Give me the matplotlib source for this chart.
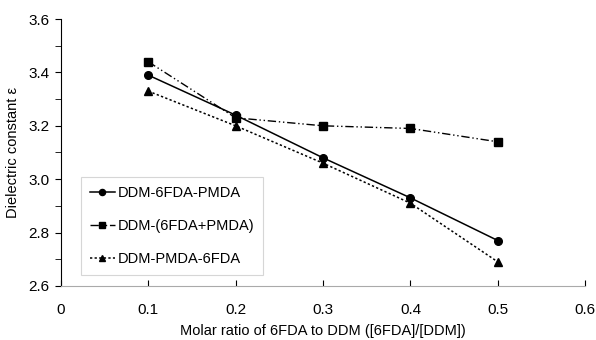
import matplotlib.pyplot as plt

plt.rcParams["font.family"] = ["Liberation Sans", "DejaVu Sans"]

ratio = [0.1, 0.2, 0.3, 0.4, 0.5]
ddm_6fda_pmda = [3.39, 3.24, 3.08, 2.93, 2.77]
ddm_mix = [3.44, 3.23, 3.20, 3.19, 3.14]
ddm_pmda_6fda = [3.33, 3.20, 3.06, 2.91, 2.69]

x_ticks = [0, 0.1, 0.2, 0.3, 0.4, 0.5, 0.6]
x_labels = ["0", "0.1", "0.2", "0.3", "0.4", "0.5", "0.6"]
y_ticks = [2.6, 2.8, 3.0, 3.2, 3.4, 3.6]
y_labels = ["2.6", "2.8", "3.0", "3.2", "3.4", "3.6"]
y_minor = [2.7, 2.9, 3.1, 3.3, 3.5]

fig = plt.figure(figsize=(5.96, 3.4), dpi=100)
ax = fig.add_axes([0.102, 0.159, 0.88, 0.785])

ax.plot(ratio, ddm_6fda_pmda, "k-", marker="o", ms=5.5, lw=1.1, label="DDM-6FDA-PMDA")
ax.plot(ratio, ddm_mix, "k", ls=(0, (6, 2, 1, 2, 1, 2)), marker="s", ms=5.5, lw=1.0,
        label="DDM-(6FDA+PMDA)")
ax.plot(ratio, ddm_pmda_6fda, "k", ls=(0, (1.5, 1.5)), marker="^", ms=5.5, lw=1.1,
        label="DDM-PMDA-6FDA")

ax.set_xlim(0, 0.6)
ax.set_ylim(2.6, 3.6)
ax.set_xticks(x_ticks)
ax.set_xticklabels(x_labels)
ax.set_yticks(y_ticks)
ax.set_yticklabels(y_labels)
ax.set_yticks(y_minor, minor=True)
ax.tick_params(axis="y", which="both", direction="out", length=4, labelsize=11, pad=4)
ax.tick_params(axis="x", direction="in", length=4, labelsize=11, pad=12)

for s in ["top", "right"]:
    ax.spines[s].set_visible(False)
ax.spines["bottom"].set_color("#aaaaaa")

ax.set_xlabel("Molar ratio of 6FDA to DDM ([6FDA]/[DDM])", fontsize=10.5, labelpad=5)
ax.set_ylabel("Dielectric constant \u03b5", fontsize=10.5, labelpad=6)

leg = ax.legend(loc="lower left", bbox_to_anchor=(0.025, 0.015), fontsize=10.5,
                frameon=True, fancybox=False, handlelength=1.7, handletextpad=0.2,
                labelspacing=1.3, borderpad=0.6, markerscale=0.8)
leg.get_frame().set_edgecolor("#cccccc")
leg.get_frame().set_linewidth(0.8)

fig.savefig("out.png", dpi=100)
